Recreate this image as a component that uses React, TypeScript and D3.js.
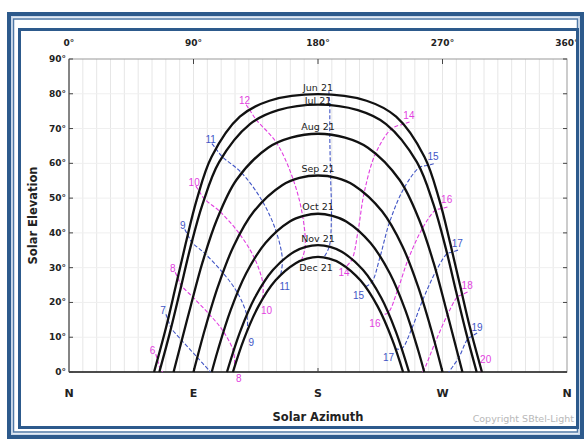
import { useEffect, useRef } from "react";
import * as d3 from "d3";

const W = 584;
const H = 439;

const dateLabels = ["Jun 21", "Jul 21", "Aug 21", "Sep 21", "Oct 21", "Nov 21", "Dec 21"];

// sun paths as [azimuth, elevation]
const junPath = [[61.5, 0], [70.1, 12.7], [77.2, 24.7], [84.4, 37.0], [92.3, 49.5], [103.1, 61.9], [123.5, 73.4], [144.9, 78.0], [180, 79.9], [215.1, 78.0], [236.5, 73.4], [256.9, 61.9], [267.7, 49.5], [275.6, 37.0], [282.8, 24.7], [289.9, 12.7], [298.5, 0]];
const julPath = [[65.3, 0], [72.8, 11.1], [80.2, 23.2], [87.7, 35.7], [96.5, 48.2], [108.6, 60.4], [130.8, 71.3], [151.2, 75.3], [180, 76.9], [208.8, 75.3], [229.2, 71.3], [251.4, 60.4], [263.5, 48.2], [272.3, 35.7], [279.8, 23.2], [287.2, 11.1], [294.7, 0]];
const augPath = [[75.6, 0], [79.9, 6.6], [88.0, 19.0], [96.5, 31.5], [106.8, 43.7], [121.0, 55.2], [143.9, 64.5], [160.4, 67.4], [180, 68.5], [199.6, 67.4], [216.1, 64.5], [239.0, 55.2], [253.2, 43.7], [263.5, 31.5], [272.0, 19.0], [280.1, 6.6], [284.4, 0]];
const sepPath = [[90, 0], [98.4, 12.5], [107.7, 24.6], [118.9, 36.1], [133.7, 46.2], [154.1, 53.7], [166.6, 55.8], [180, 56.5], [193.4, 55.8], [205.9, 53.7], [226.3, 46.2], [241.1, 36.1], [252.3, 24.6], [261.6, 12.5], [270, 0]];
const octPath = [[103.2, 0], [107.5, 6.1], [116.8, 17.7], [128.0, 28.3], [142.0, 37.1], [159.6, 43.3], [169.6, 44.9], [180, 45.5], [190.4, 44.9], [200.4, 43.3], [218.0, 37.1], [232.0, 28.3], [243.2, 17.7], [252.5, 6.1], [256.8, 0]];
const novPath = [[114.2, 0], [123.8, 11.7], [134.4, 21.4], [147.4, 29.3], [162.8, 34.6], [171.2, 36.0], [180, 36.5], [188.8, 36.0], [197.2, 34.6], [212.6, 29.3], [225.6, 21.4], [236.2, 11.7], [245.8, 0]];
const decPath = [[118.5, 0], [126.4, 9.4], [136.8, 18.8], [149.2, 26.3], [163.9, 31.3], [171.9, 32.6], [180, 33.1], [188.1, 32.6], [196.1, 31.3], [210.8, 26.3], [223.2, 18.8], [233.6, 9.4], [241.5, 0]];
const datePaths = [junPath, julPath, augPath, sepPath, octPath, novPath, decPath];

// clock-hour lines, Jun end first
const hourLabels = [6, 7, 8, 9, 10, 11, 12, 13, 14, 15, 16, 17, 18, 19, 20];
const hour6 = [[64.0, 3.5], [66.0, 0.95], [67.7, 0]];
const hour7 = [[71.6, 15.0], [73.8, 12.7], [81.55, 9.06], [92.8, 4.17], [102.3, 0]];
const hour8 = [[78.6, 27.1], [81.15, 24.9], [89.6, 21.5], [101.4, 16.6], [111.7, 11.6], [118.8, 6.0], [119.8, 1.7]];
const hour9 = [[85.8, 39.5], [88.8, 37.35], [98.4, 34.0], [111.1, 28.6], [121.75, 22.8], [128.5, 16.4], [128.95, 12.0]];
const hour10 = [[94.1, 52.0], [97.8, 49.8], [109.2, 46.1], [123.3, 39.7], [134.1, 32.7], [140.2, 25.4], [139.9, 21.0]];
const hour11 = [[106.0, 64.3], [110.7, 61.95], [124.7, 57.3], [139.8, 49.1], [149.75, 40.4], [154.3, 32.2], [152.95, 27.9]];
const hour12 = [[130.5, 75.4], [135.3, 72.55], [150.1, 65.85], [162.2, 55.2], [168.9, 44.85], [170.7, 35.95], [168.0, 32.1]];
const hour13 = [[188, 79.85], [188.5, 76.8], [188.5, 68.3], [189.1, 56.2], [189.7, 45.0], [188.15, 36.1], [184.2, 32.95]];
const hour14 = [[242.1, 71.3], [233.35, 70.0], [221.7, 62.9], [213.4, 51.6], [209.05, 40.8], [204.7, 32.5], [200.2, 30.25]];
const hour15 = [[259.5, 59.45], [253.4, 58.8], [242.35, 53.0], [231.75, 43.1], [224.95, 33.25], [219.0, 25.9], [214.3, 24.5]];
const hour16 = [[269.4, 47.0], [264.8, 46.5], [255.5, 41.3], [245.2, 32.4], [237.5, 23.5], [230.8, 17.1], [226.2, 16.4]];
const hour17 = [[277.1, 34.5], [273.3, 34.0], [265.3, 29.0], [255.6, 20.6], [247.7, 12.4], [240.6, 6.75], [236.1, 6.65]];
const hour18 = [[284.2, 22.25], [280.8, 21.6], [273.65, 16.5], [264.5, 8.3], [256.45, 0.5], [255.4, 0]];
const hour19 = [[291.4, 10.3], [288.25, 9.5], [281.7, 4.1], [274.5, 0]];
const hour20 = [[297.6, 1.0], [298.2, 0]];
const hourLines = [hour6, hour7, hour8, hour9, hour10, hour11, hour12, hour13, hour14, hour15, hour16, hour17, hour18, hour19, hour20];
const topLabelled = [6, 7, 8, 9, 10, 11, 12, 14, 15, 16, 17, 18, 19, 20];
const bottomLabelled = [8, 9, 10, 11, 14, 15, 16, 17];

const azTicks = [0, 90, 180, 270, 360];
const elTicks = [0, 10, 20, 30, 40, 50, 60, 70, 80, 90];
const compass = ["N", "E", "S", "W", "N"];

const BLUE = "#4256c6";
const MAGENTA = "#e23fe0";
const FRAME = "#2d5a8c";

export default function App() {
  const svgRef = useRef<SVGSVGElement>(null);

  useEffect(() => {
    const svg = d3.select(svgRef.current);
    svg.selectAll("*").remove();

    const x = d3.scaleLinear().domain([0, 360]).range([69, 567]);
    const y = d3.scaleLinear().domain([0, 90]).range([372, 59]);
    const sans = "DejaVu Sans, Verdana, sans-serif";
    const hourFont = "Liberation Sans, Arial, sans-serif";

    svg.append("rect").attr("width", W).attr("height", H).attr("fill", "#fff");

    // grid
    const grid = svg.append("g");
    grid.selectAll("line.v")
      .data(d3.range(10, 360, 10))
      .enter().append("line")
      .attr("x1", (d) => x(d)).attr("x2", (d) => x(d))
      .attr("y1", y(90)).attr("y2", y(0))
      .attr("stroke", "#e6e6e6").attr("stroke-width", 1);
    grid.selectAll("line.h")
      .data(elTicks.slice(1, -1))
      .enter().append("line")
      .attr("x1", x(0)).attr("x2", x(360))
      .attr("y1", (d) => y(d)).attr("y2", (d) => y(d))
      .attr("stroke", "#efefef").attr("stroke-width", 1);

    // plot box
    svg.append("rect")
      .attr("x", x(0)).attr("y", y(90))
      .attr("width", x(360) - x(0)).attr("height", y(0) - y(90))
      .attr("fill", "none").attr("stroke", "#999").attr("stroke-width", 1);
    svg.append("line")
      .attr("x1", x(0)).attr("x2", x(360)).attr("y1", y(0)).attr("y2", y(0))
      .attr("stroke", "#222").attr("stroke-width", 1.5);
    svg.append("line")
      .attr("x1", x(0)).attr("x2", x(0)).attr("y1", y(0)).attr("y2", y(90))
      .attr("stroke", "#555").attr("stroke-width", 1.2);

    // ticks
    elTicks.forEach((t) => {
      svg.append("line").attr("x1", x(0)).attr("x2", x(0) + 4).attr("y1", y(t)).attr("y2", y(t)).attr("stroke", "#444");
      svg.append("line").attr("x1", x(360)).attr("x2", x(360) - 4).attr("y1", y(t)).attr("y2", y(t)).attr("stroke", "#444");
      svg.append("text")
        .attr("x", x(0) - 3).attr("y", y(t))
        .attr("text-anchor", "end").attr("dominant-baseline", "central")
        .attr("font-family", sans).attr("font-weight", "bold").attr("font-size", 9)
        .attr("fill", "#222").text(`${t}°`);
    });
    azTicks.forEach((t, i) => {
      if (t > 0 && t < 360) {
        svg.append("line").attr("x1", x(t)).attr("x2", x(t)).attr("y1", y(90)).attr("y2", y(90) + 5).attr("stroke", "#444");
        svg.append("line").attr("x1", x(t)).attr("x2", x(t)).attr("y1", y(0)).attr("y2", y(0) - 4).attr("stroke", "#444");
      }
      svg.append("text")
        .attr("x", x(t)).attr("y", y(90) - 16)
        .attr("text-anchor", "middle").attr("dominant-baseline", "central")
        .attr("font-family", sans).attr("font-weight", "bold").attr("font-size", 9)
        .attr("fill", "#222").text(`${t}°`);
      svg.append("text")
        .attr("x", x(t)).attr("y", y(0) + 21)
        .attr("text-anchor", "middle").attr("dominant-baseline", "central")
        .attr("font-family", sans).attr("font-weight", "bold").attr("font-size", 11)
        .attr("fill", "#222").text(compass[i]);
    });

    const line = d3.line<number[]>()
      .x((d) => x(d[0]))
      .y((d) => y(d[1]))
      .curve(d3.curveCatmullRom.alpha(0.5));

    // hour lines
    hourLines.forEach((pts, i) => {
      const h = hourLabels[i];
      const color = h % 2 === 0 ? MAGENTA : BLUE;
      const px = pts.map((p) => [x(p[0]), y(p[1])]);
      const a = px[0], b = px[1];
      const len = Math.hypot(a[0] - b[0], a[1] - b[1]) || 1;
      const dx = (a[0] - b[0]) / len, dy = (a[1] - b[1]) / len;
      const ext = h === 13 ? 3 : 6;
      const full = [[a[0] + dx * ext, a[1] + dy * ext], ...px];
      svg.append("path")
        .attr("d", d3.line().curve(d3.curveCatmullRom.alpha(0.5))(full as [number, number][]))
        .attr("fill", "none").attr("stroke", color).attr("stroke-width", 1.1)
        .attr("stroke-dasharray", "4,2");
      const left = h < 13;
      if (topLabelled.includes(h)) {
        svg.append("text")
          .attr("x", a[0] + (left ? -5 : 5)).attr("y", a[1] - 9)
          .attr("text-anchor", "middle").attr("dominant-baseline", "central")
          .attr("font-family", hourFont).attr("font-size", 10)
          .attr("fill", color).text(h);
      }
      if (bottomLabelled.includes(h)) {
        const e = px[px.length - 1];
        const ox = left ? 4 : h === 14 ? -2 : -7;
        const oy = left ? 12 : h === 14 ? 6 : 9;
        svg.append("text")
          .attr("x", e[0] + ox).attr("y", e[1] + oy)
          .attr("text-anchor", "middle").attr("dominant-baseline", "central")
          .attr("font-family", hourFont).attr("font-size", 10)
          .attr("fill", color).text(h);
      }
    });

    // sun paths
    datePaths.forEach((pts) => {
      svg.append("path")
        .attr("d", line(pts))
        .attr("fill", "none").attr("stroke", "#111").attr("stroke-width", 2.3);
    });

    // date labels at the noon point
    datePaths.forEach((pts, i) => {
      const noon = pts.find((p) => p[0] === 180) || pts[0];
      const off = i === 6 ? 11 : i === 1 ? -4 : -7;
      svg.append("text")
        .attr("x", x(noon[0]) - (i === 6 ? 2 : 0)).attr("y", y(noon[1]) + off)
        .attr("text-anchor", "middle").attr("dominant-baseline", "central")
        .attr("font-family", sans).attr("font-size", 9.5)
        .attr("fill", "#222").text(dateLabels[i]);
    });

    // axis titles
    svg.append("text")
      .attr("x", x(180)).attr("y", y(0) + 45)
      .attr("text-anchor", "middle").attr("dominant-baseline", "central")
      .attr("font-family", sans).attr("font-weight", "bold").attr("font-size", 11.5)
      .attr("fill", "#222").text("Solar Azimuth");
    svg.append("text")
      .attr("transform", `translate(33,${(y(0) + y(90)) / 2}) rotate(-90)`)
      .attr("text-anchor", "middle").attr("dominant-baseline", "central")
      .attr("font-family", sans).attr("font-weight", "bold").attr("font-size", 11.5)
      .attr("fill", "#222").text("Solar Elevation");
    svg.append("text")
      .attr("x", 574).attr("y", 418)
      .attr("text-anchor", "end").attr("dominant-baseline", "central")
      .attr("font-family", sans).attr("font-size", 9.5)
      .attr("fill", "#b8b8b8").text("Copyright SBtel-Light");

    // frame
    const frame = svg.append("g").attr("fill", "none");
    frame.append("rect").attr("x", 9).attr("y", 14).attr("width", 573).attr("height", 423)
      .attr("stroke", FRAME).attr("stroke-width", 4);
    frame.append("rect").attr("x", 11.75).attr("y", 16.75).attr("width", 567.5).attr("height", 417.5)
      .attr("stroke", "#c9d8ea").attr("stroke-width", 1.5);
    frame.append("rect").attr("x", 13.5).attr("y", 19).attr("width", 564).attr("height", 413)
      .attr("stroke", "#4f78a6").attr("stroke-width", 1.5);
    frame.append("rect").attr("x", 19.5).attr("y", 29.5).attr("width", 558).attr("height", 398)
      .attr("stroke", FRAME).attr("stroke-width", 3);
  }, []);

  return (
    <svg
      ref={svgRef}
      width={W}
      height={H}
      style={{ position: "absolute", left: 0, top: 0, display: "block" }}
    />
  );
}
